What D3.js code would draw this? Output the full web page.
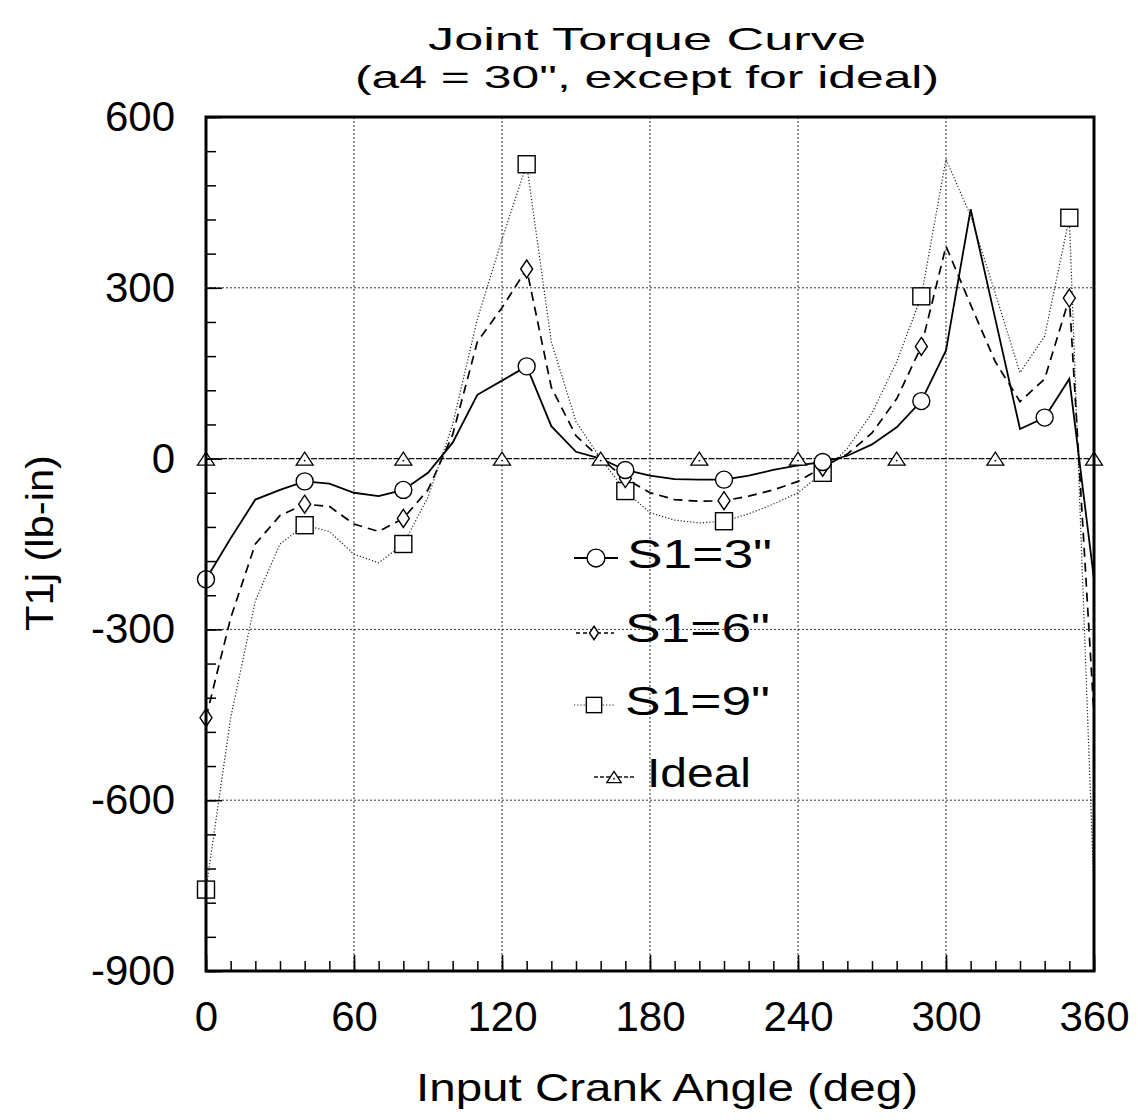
<!DOCTYPE html>
<html>
<head>
<meta charset="utf-8">
<script src="https://cdn.jsdelivr.net/npm/d3@7"></script>
<style>
  body { margin: 0; background: #fff; }
  svg text { font-family: "Liberation Sans", Arial, Helvetica, sans-serif; fill: #000; }
</style>
</head>
<body>
<script>
// ------------------------------------------------------------
// Joint Torque Curve (a4 = 30", except for ideal)
// ------------------------------------------------------------

// crank angle samples (deg)
var angles = [0,10,20,30,40,50,60,70,80,90,100,110,120,130,140,150,160,170,180,
              190,200,210,220,230,240,250,260,270,280,290,300,310,320,330,340,350,360];

// torque T1j (lb-in) for each offset
var s1_3 = [-212,-140,-72,-55,-40,-44,-60,-66,-55,-25,28,112,137,162,57,12,0,-20,-30,
            -36,-37,-37,-30,-20,-12,-6,5,25,55,101,190,438,245,52,72,140,-212];
var s1_6 = [-455,-280,-150,-100,-80,-84,-115,-128,-105,-55,42,205,265,333,125,40,0,-35,-60,
            -72,-75,-74,-66,-55,-40,-15,8,45,105,197,373,270,170,100,140,282,-450];
var s1_9 = [-757,-455,-250,-150,-117,-128,-168,-183,-150,-68,60,245,385,517,205,65,0,-57,-95,
            -108,-113,-110,-97,-80,-60,-25,18,80,170,285,526,426,290,151,215,423,-760];

var idealAngles = [0,40,80,120,160,200,240,280,320,360];
var idealTorque = [0,0,0,0,0,0,0,0,0,0];

// where the plotting program put its symbols
var markAt3 = [0,40,80,130,170,210,250,290,340];
var markAt6 = [0,40,80,130,170,210,250,290,350];
var markAt9 = [0,40,80,130,170,210,250,290,350];

var xTicks = [0,60,120,180,240,300,360];
var yTicks = [-900,-600,-300,0,300,600];
var legendLabels = ['S1=3"', 'S1=6"', 'S1=9"', 'Ideal'];

// ------------------------------------------------------------
var W = 1138, H = 1120;
var pl = 206, pr = 1094, pt = 117, pb = 971;

var svg = d3.select("body").append("svg")
    .attr("width", W)
    .attr("height", H);

svg.append("rect").attr("width", W).attr("height", H).attr("fill", "#fff");

var x = d3.scaleLinear().domain([0, 360]).range([pl, pr]);
var y = d3.scaleLinear().domain([-900, 600]).range([pb, pt]);

// grid
var grid = svg.append("g").attr("class", "grid");
grid.selectAll("line.gx")
    .data(xTicks.filter(function(d) { return d > 0 && d < 360; }))
    .enter().append("line")
    .attr("x1", function(d) { return x(d); })
    .attr("x2", function(d) { return x(d); })
    .attr("y1", pt).attr("y2", pb)
    .attr("stroke", "#333").attr("stroke-width", 1)
    .attr("stroke-dasharray", "2,2");
grid.selectAll("line.gy")
    .data(yTicks.filter(function(d) { return d > -900 && d < 600 && d !== 0; }))
    .enter().append("line")
    .attr("x1", pl).attr("x2", pr)
    .attr("y1", function(d) { return y(d); })
    .attr("y2", function(d) { return y(d); })
    .attr("stroke", "#333").attr("stroke-width", 1)
    .attr("stroke-dasharray", "2,2");

// series lines
var line = d3.line()
    .x(function(d) { return x(d[0]); })
    .y(function(d) { return y(d[1]); });

function pairs(xs, ys) { return xs.map(function(a, i) { return [a, ys[i]]; }); }

var styles = {
    s3: { dash: null, width: 1.8, color: "#000" },
    s6: { dash: "9,6", width: 1.7, color: "#000" },
    s9: { dash: "1.2,2", width: 1.2, color: "#222" },
    ideal: { dash: "6,1.5", width: 1.4, color: "#111" }
};

function drawLine(data, st) {
    svg.append("path")
        .datum(data)
        .attr("d", line)
        .attr("fill", "none")
        .attr("stroke", st.color)
        .attr("stroke-width", st.width)
        .attr("stroke-dasharray", st.dash);
}

drawLine(pairs(idealAngles, idealTorque), styles.ideal);
drawLine(pairs(angles, s1_9), styles.s9);
drawLine(pairs(angles, s1_6), styles.s6);
drawLine(pairs(angles, s1_3), styles.s3);

// marker shapes
function addMarker(g, kind, cx, cy, s) {
    s = s || 1;
    if (kind === "circle") {
        g.append("circle").attr("cx", cx).attr("cy", cy).attr("r", 8.5 * s)
            .attr("fill", "#fff").attr("stroke", "#000").attr("stroke-width", 1.4);
    } else if (kind === "square") {
        g.append("rect").attr("x", cx - 8.5 * s).attr("y", cy - 8.5 * s)
            .attr("width", 17 * s).attr("height", 17 * s)
            .attr("fill", "#fff").attr("stroke", "#000").attr("stroke-width", 1.4);
    } else if (kind === "diamond") {
        var a = 6 * s, b = 9 * s;
        g.append("path")
            .attr("d", "M" + cx + "," + (cy - b) + "L" + (cx + a) + "," + cy + "L" + cx + "," + (cy + b) + "L" + (cx - a) + "," + cy + "Z")
            .attr("fill", "#fff").attr("stroke", "#000").attr("stroke-width", 1.4);
    } else {
        var hw = 8.5 * s, hh = 6.5 * s;
        g.append("path")
            .attr("d", "M" + cx + "," + (cy - hh) + "L" + (cx + hw) + "," + (cy + hh) + "L" + (cx - hw) + "," + (cy + hh) + "Z")
            .attr("fill", "#fff").attr("stroke", "#000").attr("stroke-width", 1.3);
        g.append("circle").attr("cx", cx).attr("cy", cy + 2 * s).attr("r", 0.9).attr("fill", "#000");
    }
}

var marks = svg.append("g").attr("class", "markers");
markAt9.forEach(function(a) { addMarker(marks, "square", x(a), y(s1_9[angles.indexOf(a)])); });
markAt6.forEach(function(a) { addMarker(marks, "diamond", x(a), y(s1_6[angles.indexOf(a)])); });
markAt3.forEach(function(a) { addMarker(marks, "circle", x(a), y(s1_3[angles.indexOf(a)])); });
idealAngles.forEach(function(a, i) { addMarker(marks, "triangle", x(a), y(idealTorque[i])); });

// legend
var legend = svg.append("g").attr("class", "legend");
var legRows = [
    { kind: "circle",   st: styles.s3,    lx0: 574, lx1: 618, mx: 596, my: 558, tx: 627, ty: 568, tw: 145, ms: 1.05 },
    { kind: "diamond",  st: styles.s6,    lx0: 576, lx1: 614, mx: 594, my: 633, tx: 625, ty: 642, tw: 145, ms: 0.75 },
    { kind: "square",   st: styles.s9,    lx0: 574, lx1: 614, mx: 594, my: 705, tx: 625, ty: 715, tw: 145, ms: 0.9 },
    { kind: "triangle", st: styles.ideal, lx0: 594, lx1: 634, mx: 614, my: 777, tx: 647, ty: 787, tw: 104, ms: 0.85 }
];
legRows.forEach(function(r, i) {
    legend.append("line")
        .attr("x1", r.lx0).attr("x2", r.lx1)
        .attr("y1", r.my).attr("y2", r.my)
        .attr("stroke", r.st.color)
        .attr("stroke-width", r.st.width)
        .attr("stroke-dasharray", i === 1 ? "4,3" : (i === 3 ? "4,2" : r.st.dash));
    addMarker(legend, r.kind, r.mx, r.my, r.ms);
    legend.append("text")
        .attr("x", r.tx).attr("y", r.ty)
        .attr("font-size", 40)
        .attr("textLength", r.tw)
        .attr("lengthAdjust", "spacingAndGlyphs")
        .text(legendLabels[i]);
});

// axes: minor ticks, major ticks, labels
var yMinor = d3.range(-900, 601, 60);
var xMinor = d3.range(0, 361, 10);
var plain = function(d) { return String(d); };

svg.append("g")
    .attr("transform", "translate(" + pl + ",0)")
    .call(d3.axisLeft(y).tickValues(yMinor).tickSizeInner(-10).tickSizeOuter(0).tickFormat(""))
    .call(function(g) { g.select(".domain").remove(); g.selectAll("line").attr("stroke-width", 1.5); });

svg.append("g")
    .attr("transform", "translate(0," + pb + ")")
    .call(d3.axisBottom(x).tickValues(xMinor).tickSizeInner(-10).tickSizeOuter(0).tickFormat(""))
    .call(function(g) { g.select(".domain").remove(); g.selectAll("line").attr("stroke-width", 1.5); });

var yAxis = svg.append("g")
    .attr("transform", "translate(" + pl + ",0)")
    .call(d3.axisLeft(y).tickValues(yTicks).tickSizeInner(-16).tickSizeOuter(0).tickPadding(31).tickFormat(plain));
yAxis.select(".domain").remove();
yAxis.selectAll("line").attr("stroke-width", 1.6);
yAxis.selectAll("text").attr("font-size", 42).attr("font-family", null).attr("fill", "#000");

var xAxis = svg.append("g")
    .attr("transform", "translate(0," + pb + ")")
    .call(d3.axisBottom(x).tickValues(xTicks).tickSizeInner(-16).tickSizeOuter(0).tickPadding(30).tickFormat(plain));
xAxis.select(".domain").remove();
xAxis.selectAll("line").attr("stroke-width", 1.6);
xAxis.selectAll("text").attr("font-size", 42).attr("font-family", null).attr("fill", "#000");

// frame
svg.append("rect")
    .attr("x", pl).attr("y", pt)
    .attr("width", pr - pl).attr("height", pb - pt)
    .attr("fill", "none").attr("stroke", "#000").attr("stroke-width", 3);

// titles
svg.append("text")
    .attr("x", 647).attr("y", 50)
    .attr("text-anchor", "middle")
    .attr("font-size", 32)
    .attr("textLength", 438)
    .attr("lengthAdjust", "spacingAndGlyphs")
    .text("Joint Torque Curve");

svg.append("text")
    .attr("x", 647).attr("y", 88)
    .attr("text-anchor", "middle")
    .attr("font-size", 32)
    .attr("textLength", 584)
    .attr("lengthAdjust", "spacingAndGlyphs")
    .text("(a4 = 30\", except for ideal)");

svg.append("text")
    .attr("x", 667).attr("y", 1101)
    .attr("text-anchor", "middle")
    .attr("font-size", 39)
    .attr("textLength", 502)
    .attr("lengthAdjust", "spacingAndGlyphs")
    .text("Input Crank Angle (deg)");

svg.append("text")
    .attr("transform", "translate(53,543) rotate(-90)")
    .attr("text-anchor", "middle")
    .attr("font-size", 39)
    .attr("textLength", 176)
    .attr("lengthAdjust", "spacingAndGlyphs")
    .text("T1j (lb-in)");
</script>
</body>
</html>
